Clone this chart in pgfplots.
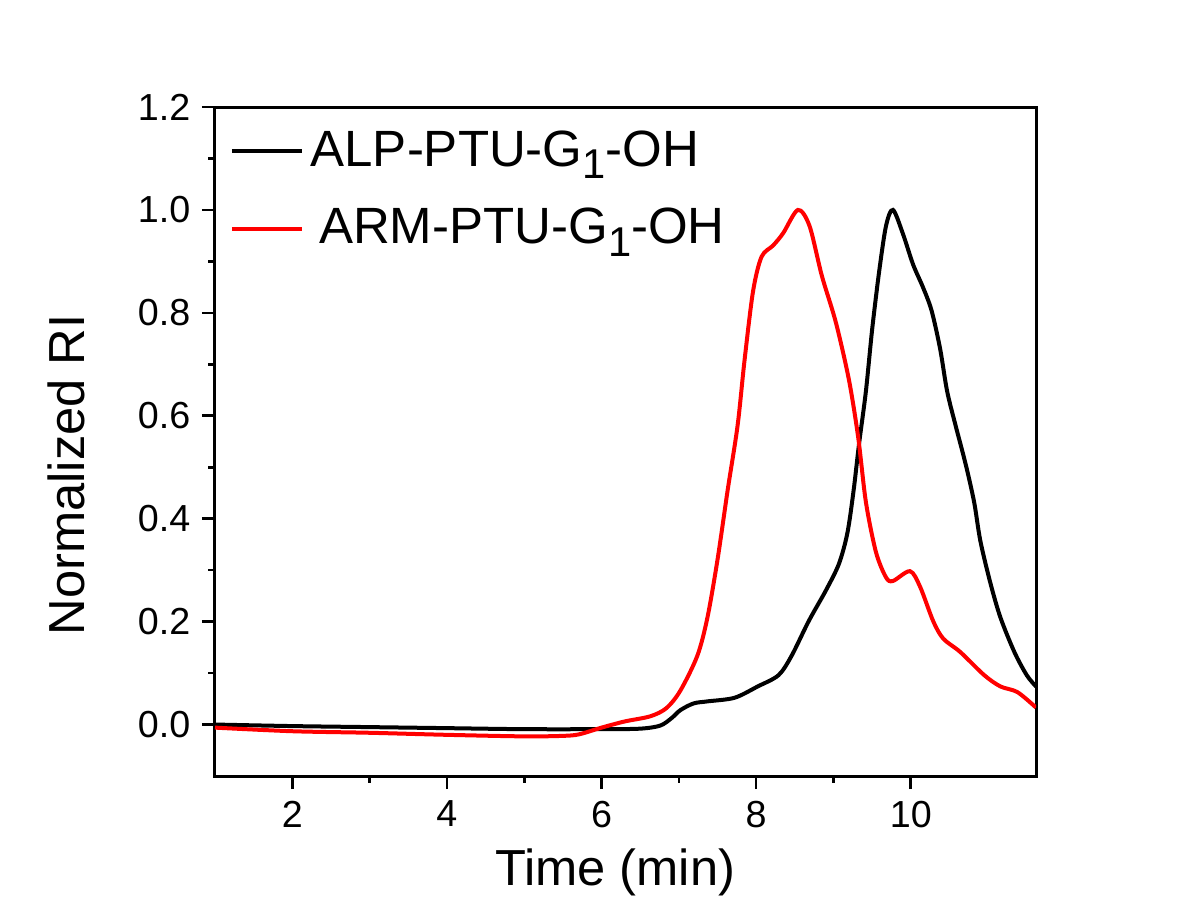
\documentclass[border=0pt]{standalone}
\usepackage{fontspec}
\setmainfont{Liberation Sans}
\usepackage{pgfplots}
\pgfplotsset{compat=1.18}

\newcommand{\sub}[1]{\raisebox{-0.45ex}{\fontsize{12.5}{12.5}\selectfont #1}}

\begin{document}
\begin{tikzpicture}
  \begin{axis}[
      scale only axis,
      width=246.3pt, height=200.7pt,
      xmin=1, xmax=11.62,
      ymin=-0.1, ymax=1.2,
      xtick={2,4,...,10},
      ytick={0,0.2,...,1.2},
      minor x tick num=1,
      minor y tick num=1,
      tick align=outside,
      tick pos=left,
      major tick length=3.9pt,
      minor tick length=2pt,
      every tick/.style={black, line width=0.8pt},
      axis line style={line width=0.9pt},
      /pgf/number format/assume math mode=true,
      yticklabel style={/pgf/number format/.cd, fixed, fixed zerofill, precision=1},
      tick label style={font=\fontsize{11.3}{13}\selectfont},
      xlabel={Time (min)},
      ylabel={Normalized RI},
      label style={font=\fontsize{15.2}{17}\selectfont},
      xlabel style={at={(axis description cs:0.4875,-0.164)}, anchor=base},
      ylabel style={at={(axis description cs:-0.1435,0.45)}, anchor=south},
      legend style={draw=none, fill=none, at={(0.005,0.985)}, anchor=north west,
        font=\fontsize{15.3}{18}\selectfont, row sep=7pt},
      legend cell align=left,
      legend image code/.code={\draw[#1] (0cm,0cm) -- (0.74cm,0cm);},
    ]
    \addplot[black, line width=1.2pt, smooth] coordinates {
      (1.00,0.000) (2.00,-0.003) (3.00,-0.005) (4.00,-0.007) (5.00,-0.009)
      (6.00,-0.009) (6.50,-0.008) (6.76,-0.002) (6.91,0.013) (7.02,0.028)
      (7.19,0.041) (7.37,0.045) (7.72,0.052) (8.02,0.074) (8.29,0.096)
      (8.46,0.134) (8.68,0.201) (8.90,0.260) (9.07,0.312) (9.18,0.372)
      (9.26,0.454) (9.33,0.544) (9.42,0.648) (9.50,0.767) (9.59,0.879)
      (9.68,0.969) (9.77,1.000) (9.90,0.953) (10.03,0.894) (10.16,0.849)
      (10.27,0.804) (10.38,0.730) (10.47,0.648) (10.58,0.581) (10.71,0.506)
      (10.82,0.432) (10.90,0.357) (11.03,0.275) (11.16,0.208) (11.34,0.141)
      (11.50,0.096) (11.62,0.074)
    };
    \addlegendentry{ALP-PTU-G\sub{1}-OH}
    \addplot[red, line width=1.2pt, smooth] coordinates {
      (1.00,-0.006) (2.00,-0.013) (3.00,-0.016) (4.00,-0.020) (5.00,-0.023)
      (5.50,-0.022) (5.71,-0.019) (6.00,-0.006) (6.30,0.006) (6.63,0.016)
      (6.84,0.032) (7.02,0.066) (7.24,0.134) (7.37,0.208) (7.50,0.320)
      (7.63,0.454) (7.76,0.581) (7.85,0.708) (7.96,0.842) (8.07,0.909)
      (8.22,0.931) (8.35,0.955) (8.54,1.000) (8.69,0.969) (8.85,0.872)
      (9.03,0.782) (9.20,0.670) (9.32,0.558) (9.42,0.432) (9.55,0.335)
      (9.68,0.286) (9.77,0.279) (9.99,0.298) (10.12,0.268) (10.29,0.201)
      (10.42,0.167) (10.64,0.141) (10.95,0.096) (11.16,0.074) (11.38,0.063)
      (11.62,0.033)
    };
    \addlegendentry{\,ARM-PTU-G\sub{1}-OH}
  \end{axis}
  \path (current axis.south west) ++(-64.5pt,-43.8pt) coordinate (bbA);
  \path (current axis.north east) ++(46.2pt,32.1pt) coordinate (bbB);
  \useasboundingbox (bbA) rectangle (bbB);
\end{tikzpicture}
\end{document}
